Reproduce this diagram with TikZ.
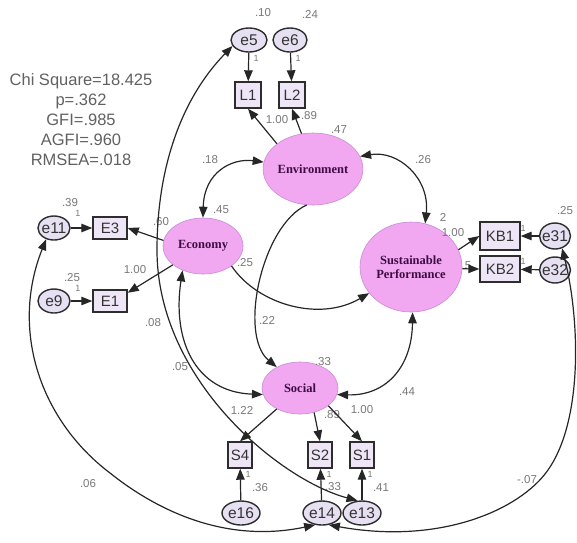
\documentclass[tikz,border=0pt]{standalone}
\usepackage{fontspec}
\setmainfont{Liberation Sans}
\newfontfamily\latfont{Liberation Serif}
\usetikzlibrary{arrows.meta,shapes.geometric}
\definecolor{latfill}{RGB}{242,168,240}
\definecolor{latline}{RGB}{196,140,214}
\definecolor{lattext}{RGB}{60,12,66}
\definecolor{obsfill}{RGB}{238,230,246}
\definecolor{errfill}{RGB}{230,224,242}
\definecolor{edgecol}{RGB}{45,45,45}
\definecolor{estcol}{RGB}{120,120,120}
\begin{document}
\begin{tikzpicture}[x=1pt,y=-1pt,
  latent/.style={ellipse, fill=latfill, draw=latline, line width=0.6pt, inner sep=0pt,
    text=lattext, font=\latfont\bfseries\fontsize{12.5}{14}\selectfont, align=center},
  observed/.style={rectangle, fill=obsfill, draw=edgecol, line width=1.4pt, inner sep=0pt,
    font=\fontsize{15}{16}\selectfont, text=black!80},
  errvar/.style={ellipse, fill=errfill, draw=edgecol, line width=1.4pt, inner sep=-2pt,
    font=\fontsize{15.5}{16}\selectfont, text=black!80},
  est/.style={text=estcol, font=\fontsize{11.5}{12}\selectfont, inner sep=0pt},
  fixone/.style={text=estcol, font=\fontsize{9}{10}\selectfont, inner sep=0pt},
  regpath/.style={draw=black!85, line width=1.2pt, -{Triangle[length=11pt,width=8.5pt]}},
  covpath/.style={draw=black!85, line width=1.2pt,
    {Triangle[length=11pt,width=8.5pt]}-{Triangle[length=11pt,width=8.5pt]}},
  fitstat/.style={align=center, text=black!62, font=\fontsize{16.5}{20}\selectfont, inner sep=0pt}
]
\useasboundingbox (0,0) rectangle (577,542);
\clip (0,0) rectangle (577,542);

% model fit summary
\node[fitstat] (fit) at (81,120) {Chi Square=18.425\\p=.362\\GFI=.985\\AGFI=.960\\RMSEA=.018};

% latent constructs
\node[latent, minimum width=84pt, minimum height=72pt] (env) at (313,169) {Environment};
\node[latent, minimum width=80pt, minimum height=56pt] (eco) at (203,246) {Economy};
\node[latent, minimum width=102pt, minimum height=90pt] (sp) at (411,267) {Sustainable\\Performance};
\node[latent, minimum width=76pt, minimum height=52pt] (soc) at (300,388) {Social};

% indicators
\node[observed, minimum width=26pt, minimum height=26pt] (L1) at (248,95) {L1};
\node[observed, minimum width=26pt, minimum height=26pt] (L2) at (292,95) {L2};
\node[observed, minimum width=34pt, minimum height=22pt] (E3) at (110,228) {E3};
\node[observed, minimum width=34pt, minimum height=22pt] (E1) at (110,301) {E1};
\node[observed, minimum width=40pt, minimum height=28pt] (KB1) at (500,236) {KB1};
\node[observed, minimum width=40pt, minimum height=26pt] (KB2) at (500,269) {KB2};
\node[observed, minimum width=24pt, minimum height=26pt] (S4) at (240,455) {S4};
\node[observed, minimum width=24pt, minimum height=26pt] (S2) at (320,455) {S2};
\node[observed, minimum width=24pt, minimum height=26pt] (S1) at (362,455) {S1};

% error terms
\node[errvar, minimum width=36pt, minimum height=24pt] (e5) at (249,40) {e5};
\node[errvar, minimum width=34pt, minimum height=24pt] (e6) at (290,40) {e6};
\node[errvar, minimum width=32pt, minimum height=24pt] (e11) at (54,228) {e11};
\node[errvar, minimum width=32pt, minimum height=24pt] (e9) at (54,301) {e9};
\node[errvar, minimum width=30pt, minimum height=26pt] (e31) at (555,236) {e31};
\node[errvar, minimum width=30pt, minimum height=26pt] (e32) at (555,270) {e32};
\node[errvar, minimum width=38pt, minimum height=24pt] (e16) at (241,513) {e16};
\node[errvar, minimum width=38pt, minimum height=24pt] (e14) at (322,513) {e14};
\node[errvar, minimum width=38pt, minimum height=24pt] (e13) at (362,513) {e13};

% estimates
\node[est] (v10) at (263,13) {.10};
\node[est] (v24) at (310,14) {.24};
\node[fixone] (f5) at (256,58) {1};
\node[fixone] (f6) at (298,58) {1};
\node[est] (lL1) at (277,120) {1.00};
\node[est] (lL2) at (309,116) {.89};
\node[est] (v47) at (339,130) {.47};
\node[est] (c18) at (210,160) {.18};
\node[est] (c26) at (423,160) {.26};
\node[est] (v42) at (443,217) {2};
\node[est] (v45) at (221,210) {.45};
\node[est] (lE3) at (161,222) {.60};
\node[est] (lE1) at (135,270) {1.00};
\node[est] (v39) at (70,203) {.39};
\node[fixone] (f11) at (78,213) {1};
\node[est] (v25a) at (72,278) {.25};
\node[fixone] (f9) at (78,288) {1};
\node[est] (b25) at (245,263) {.25};
\node[est] (b22) at (267,320) {.22};
\node[est] (c08) at (153,323) {.08};
\node[est] (c05) at (180,367) {.05};
\node[est] (lK1) at (453,233) {1.00};
\node[est] (lK2) at (468,266) {5};
\node[fixone] (f31) at (523,228) {1};
\node[fixone] (f32) at (523,261) {1};
\node[est] (v25b) at (565,211) {.25};
\node[est] (v33) at (323,362) {.33};
\node[est] (lS4) at (242,410) {1.22};
\node[est] (lS2) at (332,415) {.89};
\node[est] (lS1) at (362,410) {1.00};
\node[est] (c44) at (407,392) {.44};
\node[est] (v36) at (260,488) {.36};
\node[est] (v33b) at (333,487) {.33};
\node[est] (v41) at (381,488) {.41};
\node[fixone] (f16) at (248,474) {1};
\node[fixone] (f14) at (329,474) {1};
\node[fixone] (f13) at (370,474) {1};
\node[est] (c06) at (88,484) {.06};
\node[est] (c07) at (527,480) {-.07};

% measurement paths
\draw[regpath] (e5) -- (L1);
\draw[regpath] (e6) -- (L2);
\draw[regpath] (env.145) -- (L1.south);
\draw[regpath] (env.108) -- (L2.south);
\draw[regpath] (eco.172) -- (E3.east);
\draw[regpath] (eco.212) -- (E1.25);
\draw[regpath] (e11) -- (E3);
\draw[regpath] (e9) -- (E1);
\draw[regpath] (sp.20) -- (KB1.west);
\draw[regpath] (sp.-2) -- (KB2.west);
\draw[regpath] (e31) -- (KB1);
\draw[regpath] (e32) -- (KB2);
\draw[regpath] (soc.222) -- (S4.north);
\draw[regpath] (soc.-60) -- (S2.north);
\draw[regpath] (soc.-32) -- (S1.north);
\draw[regpath] (e16) -- (S4);
\draw[regpath] (e14) -- (S2);
\draw[regpath] (e13) -- (S1);

% structural paths and covariances
\draw[covpath] (eco.north) .. controls (204,172) and (232,158) .. (env.172);
\draw[covpath] (env.15) .. controls (398,150) and (430,178) .. (sp.72);
\draw[regpath] (eco.-35) .. controls (258,305) and (320,322) .. (sp.212);
\draw[regpath] (env.-100) .. controls (262,225) and (238,335) .. (soc.138);
\draw[covpath] (eco.230) .. controls (172,340) and (195,392) .. (soc.190);
\draw[covpath] (sp.-88) .. controls (412,368) and (385,396) .. (soc.-10);

% error covariances
\draw[covpath] (e5.200) .. controls (180,100) and (157,170) .. (157,250)
  .. controls (157,380) and (280,480) .. (e13.110);
\draw[covpath] (e11.235) .. controls (10,330) and (40,420) .. (110,473)
  .. controls (150,505) and (220,545) .. (e14.240);
\draw[covpath] (e31.-60) .. controls (580,320) and (583,420) .. (548,470)
  .. controls (520,510) and (440,545) .. (e14.-60);
\end{tikzpicture}
\end{document}
